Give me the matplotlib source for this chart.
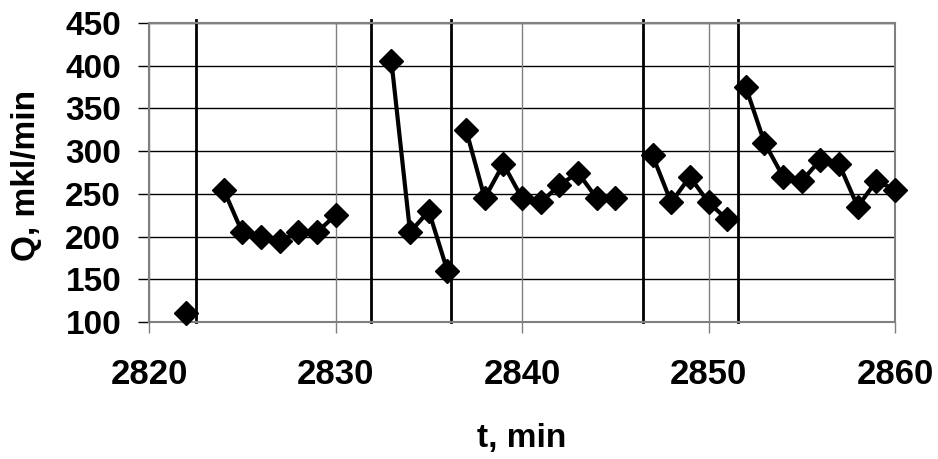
import numpy as np
import matplotlib
matplotlib.use('Agg')
import matplotlib.pyplot as plt

plt.rcParams['font.family'] = ['Liberation Sans', 'DejaVu Sans']
plt.rcParams['font.weight'] = 'bold'

# measured runs, one list per run (gaps between runs)
t_runs = [
    [2822],
    [2824, 2825, 2826, 2827, 2828, 2829, 2830],
    [2833, 2834, 2835, 2836],
    [2837, 2838, 2839, 2840, 2841, 2842, 2843, 2844, 2845],
    [2847, 2848, 2849, 2850, 2851],
    [2852, 2853, 2854, 2855, 2856, 2857, 2858, 2859, 2860],
]
q_runs = [
    [110],
    [255, 205, 200, 195, 205, 205, 225],
    [405, 205, 230, 160],
    [325, 245, 285, 245, 240, 260, 275, 245, 245],
    [295, 240, 270, 240, 220],
    [375, 310, 270, 265, 290, 285, 235, 265, 255],
]
# event markers (thick vertical lines)
event_t = [2822.5, 2831.9, 2836.2, 2846.5, 2851.6]

x_ticks = [2820, 2830, 2840, 2850, 2860]
y_ticks = [100, 150, 200, 250, 300, 350, 400, 450]

fig = plt.figure(figsize=(9.38, 4.59), dpi=100)
ax = fig.add_axes([149/938, 1-322/459, 746/938, 299/459])

ax.set_xlim(2820, 2860)
ax.set_ylim(100, 450)
ax.set_xticks(x_ticks)
ax.set_yticks(y_ticks)

# grid
for yv in y_ticks:
    ax.axhline(yv, color='black', lw=1.0, zorder=1)
for xv in x_ticks:
    ax.axvline(xv, color='#808080', lw=1.0, zorder=1)

for ev in event_t:
    ax.axvline(ev, ymin=0, ymax=1.01, color='black', lw=2.0, zorder=2, clip_on=False)

for t, q in zip(t_runs, q_runs):
    ax.plot(t, q, color='black', lw=3.0, marker='D', ms=12, zorder=3, clip_on=False)

for s in ax.spines.values():
    s.set_color('#808080')
    s.set_linewidth(1.5)

ax.tick_params(axis='y', length=8, width=1.0, color='black', pad=12, labelsize=24)
ax.tick_params(axis='x', length=8, width=1.0, color='#808080', pad=18, labelsize=25)
for lab in ax.get_xticklabels() + ax.get_yticklabels():
    lab.set_fontweight('bold')

fig.text(26/938, 1-175/459, 'Q, mkl/min', rotation=90, ha='center', va='center',
         fontsize=24, fontweight='bold')
fig.text(522/938, 1-447/459, 't, min', ha='center', va='baseline',
         fontsize=24, fontweight='bold')

fig.savefig('out.png', dpi=100)
